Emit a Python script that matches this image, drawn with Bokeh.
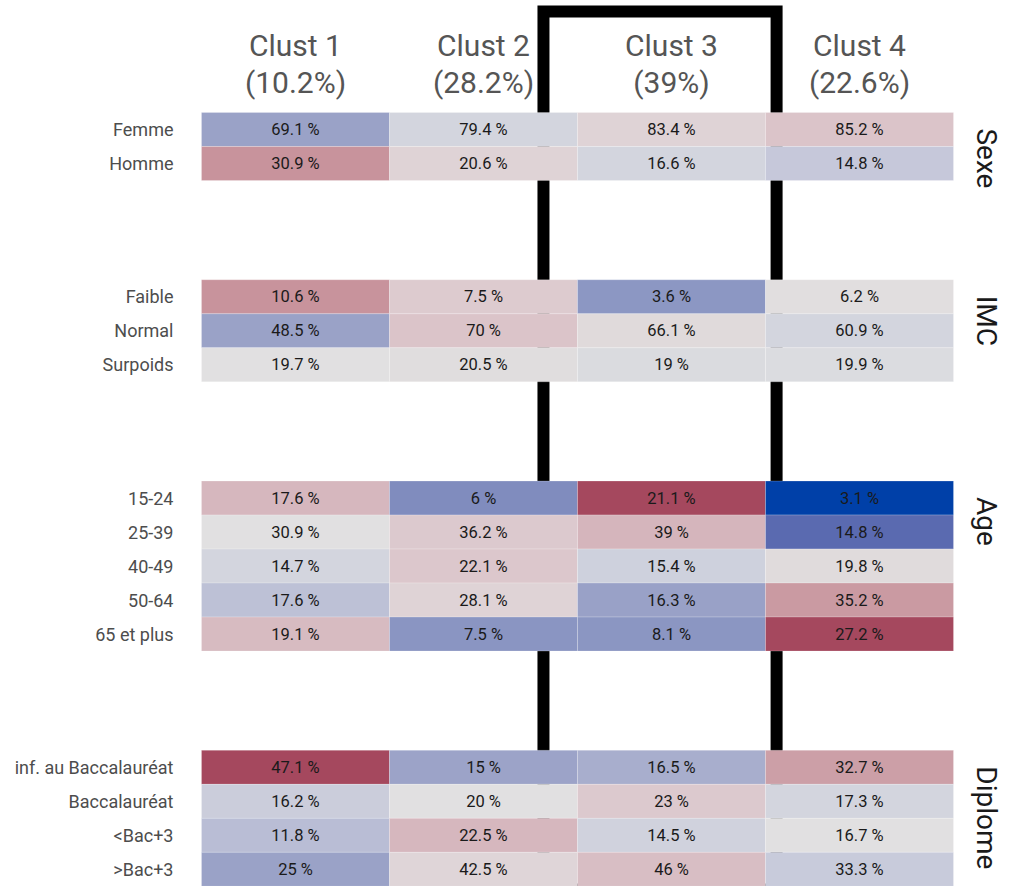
import numpy as np
from bokeh.plotting import figure
from bokeh.models import ColumnDataSource, Range1d, LinearColorMapper
from bokeh.transform import transform
from bokeh.core.properties import value
from bokeh.embed import file_html
from bokeh.resources import INLINE

# ---------------- data ----------------
clusters = ["Clust 1", "Clust 2", "Clust 3", "Clust 4"]
cluster_share = ["(10.2%)", "(28.2%)", "(39%)", "(22.6%)"]
highlight = "Clust 3"

groups = ["Sexe", "IMC", "Age", "Diplome"]
group_rows = {
    "Sexe": ["Femme", "Homme"],
    "IMC": ["Faible", "Normal", "Surpoids"],
    "Age": ["15-24", "25-39", "40-49", "50-64", "65 et plus"],
    "Diplome": ["inf. au Baccalauréat", "Baccalauréat", "<Bac+3", ">Bac+3"],
}

# percentages per row (Clust 1..4)
pct_femme = ["69.1", "79.4", "83.4", "85.2"]
pct_homme = ["30.9", "20.6", "16.6", "14.8"]
pct_faible = ["10.6", "7.5", "3.6", "6.2"]
pct_normal = ["48.5", "70", "66.1", "60.9"]
pct_surpoids = ["19.7", "20.5", "19", "19.9"]
pct_15_24 = ["17.6", "6", "21.1", "3.1"]
pct_25_39 = ["30.9", "36.2", "39", "14.8"]
pct_40_49 = ["14.7", "22.1", "15.4", "19.8"]
pct_50_64 = ["17.6", "28.1", "16.3", "35.2"]
pct_65 = ["19.1", "7.5", "8.1", "27.2"]
pct_infbac = ["47.1", "15", "16.5", "32.7"]
pct_bac = ["16.2", "20", "23", "17.3"]
pct_lt_bac3 = ["11.8", "22.5", "14.5", "16.7"]
pct_gt_bac3 = ["25", "42.5", "46", "33.3"]

dev_femme = [-0.36, -0.10, 0.10, 0.22]
dev_homme = [0.50, 0.10, -0.10, -0.18]
dev_faible = [0.50, 0.17, -0.48, 0.02]
dev_normal = [-0.36, 0.22, 0.05, -0.10]
dev_surpoids = [0.00, 0.03, -0.05, -0.04]
dev_15_24 = [0.33, -0.55, 1.00, -1.00]
dev_25_39 = [0.00, 0.18, 0.35, -0.75]
dev_40_49 = [-0.10, 0.20, -0.13, 0.04]
dev_50_64 = [-0.22, 0.10, -0.37, 0.47]
dev_65 = [0.30, -0.50, -0.49, 1.00]
dev_infbac = [1.00, -0.35, -0.30, 0.45]
dev_bac = [-0.15, 0.00, 0.18, -0.10]
dev_lt_bac3 = [-0.24, 0.33, -0.12, 0.00]
dev_gt_bac3 = [-0.36, 0.08, 0.28, -0.17]

pct_rows = [pct_femme, pct_homme, pct_faible, pct_normal, pct_surpoids,
            pct_15_24, pct_25_39, pct_40_49, pct_50_64, pct_65,
            pct_infbac, pct_bac, pct_lt_bac3, pct_gt_bac3]
dev_rows = [dev_femme, dev_homme, dev_faible, dev_normal, dev_surpoids,
            dev_15_24, dev_25_39, dev_40_49, dev_50_64, dev_65,
            dev_infbac, dev_bac, dev_lt_bac3, dev_gt_bac3]

# ---------------- palette (style) ----------------
anchors = [(-1.0, "#0040A8"), (-0.75, "#5A6AB0"), (-0.5, "#8A95C2"), (-0.35, "#9CA3C8"),
           (-0.2, "#C3C6D9"), (-0.1, "#D3D5DE"), (0.0, "#E1E1E1"), (0.1, "#DFD3D6"),
           (0.2, "#DCC7CC"), (0.35, "#D5B5BC"), (0.5, "#C8949D"), (0.75, "#B46F7E"),
           (1.0, "#A5485E")]

def hex2rgb(h):
    return np.array([int(h[i:i + 2], 16) for i in (1, 3, 5)], dtype=float)

pos = np.array([a[0] for a in anchors])
cols = np.array([hex2rgb(a[1]) for a in anchors])
palette = []
for t in np.linspace(-1, 1, 256):
    rgb = [np.interp(t, pos, cols[:, k]) for k in range(3)]
    palette.append("#%02x%02x%02x" % tuple(int(round(v)) for v in rgb))
mapper = LinearColorMapper(palette=palette, low=-1, high=1)

# ---------------- layout in data units ----------------
GAP = 2.92
row_names, row_y, group_top = [], [], {}
cur = 0.0
for g in groups:
    group_top[g] = cur
    for r in group_rows[g]:
        row_names.append(r)
        row_y.append(cur + 0.5)
        cur += 1
    cur += GAP

xs, ys, labels, devs = [], [], [], []
for ri, (pr, dr) in enumerate(zip(pct_rows, dev_rows)):
    for ci in range(len(clusters)):
        xs.append(ci + 0.5)
        ys.append(row_y[ri])
        labels.append(pr[ci] + " %")
        devs.append(dr[ci])
cells = ColumnDataSource(dict(x=xs, y=ys, label=labels, dev=devs))

FONT = value("Roboto")
p = figure(width=1006, height=886, output_backend="svg", toolbar_location=None,
           x_range=Range1d(-1.0691, 4.2819), y_range=Range1d(22.7647, -3.2941),
           min_border=0, background_fill_color="white", border_fill_color="white")
p.axis.visible = False
p.xgrid.visible = False
p.ygrid.visible = False
p.outline_line_color = None

# highlight box around the chosen cluster
hi = clusters.index(highlight)
p.quad(left=[hi - 0.181], right=[hi + 1.059], top=[-2.97], bottom=[22.85],
       fill_color=None, line_color="black", line_width=12, line_join="miter")

# cells
p.rect(x="x", y="y", width=1, height=1, source=cells,
       fill_color=transform("dev", mapper), line_color="white", line_alpha=0.35, line_width=0.6)
p.text(x="x", y="y", text="label", source=cells, text_align="center", text_baseline="middle",
       text_font=FONT, text_font_size="16.5px", text_color="#1a1a1a")

# row labels
p.text(x=[-0.149] * len(row_names), y=row_y, text=row_names, text_align="right",
       text_baseline="middle", text_font=FONT, text_font_size="18px", text_color="#4d4d4d")

# headers
hx = [i + 0.5 for i in range(len(clusters))]
p.text(x=hx, y=[-1.97] * 4, text=clusters, text_align="center", text_baseline="middle",
       text_font=FONT, text_font_size="30px", text_color="#555555")
p.text(x=hx, y=[-0.88] * 4, text=cluster_share, text_align="center", text_baseline="middle",
       text_font=FONT, text_font_size="30px", text_color="#555555")

# group strip labels
p.text(x=[4.176] * len(groups), y=[group_top[g] + 0.47 for g in groups], text=groups,
       angle=-np.pi / 2, text_align="left", text_baseline="alphabetic",
       text_font=FONT, text_font_size="28px", text_color="#1a1a1a")

open("out.html", "w").write(file_html(p, INLINE))
